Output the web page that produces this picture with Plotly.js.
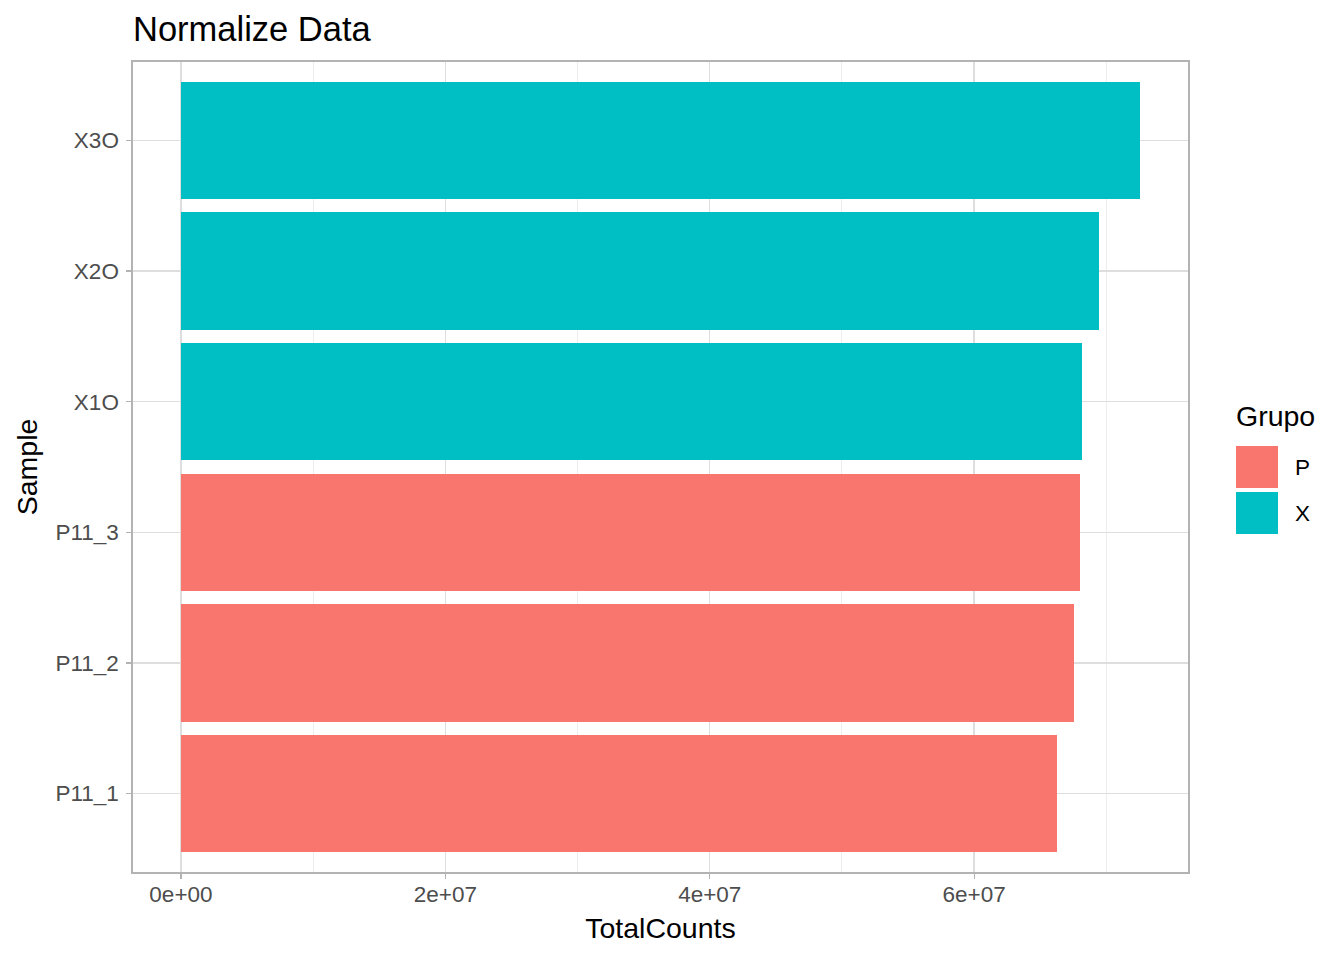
<!DOCTYPE html>
<html>
<head>
<meta charset="utf-8">
<script src="https://cdn.plot.ly/plotly-3.0.1.min.js"></script>
<style>html,body{margin:0;padding:0;background:#fff;}#chart{width:1344px;height:960px;}</style>
</head>
<body>
<div id="chart"></div>
<script>
// ---- data ----
const samples = ["P11_1", "P11_2", "P11_3", "X1O", "X2O", "X3O"];
const groups  = ["P", "P", "P", "X", "X", "X"];
const totalCounts = [66260000, 67550000, 68000000, 68150000, 69430000, 72550000];
const groupNames = ["P", "X"];
const groupColors = ["#F8766D", "#00BFC4"];
const xTickVals = [0, 20000000, 40000000, 60000000];
const xTickText = ["0e+00", "2e+07", "4e+07", "6e+07"];

// ---- layout constants (pixels) ----
const W = 1344, H = 960;
const M = {l: 133, r: 156, t: 62, b: 88};
const pw = W - M.l - M.r, ph = H - M.t - M.b;
const px = x => (x - M.l) / pw;
const py = y => (H - M.b - y) / ph;

const traces = groupNames.map((g, gi) => {
  const ys = [], xs = [];
  samples.forEach((s, i) => { if (groups[i] === g) { ys.push(s); xs.push(totalCounts[i]); } });
  return {
    type: "bar", orientation: "h", name: g,
    x: xs, y: ys, width: 0.9,
    marker: {color: groupColors[gi], line: {width: 0}},
    showlegend: false, hoverinfo: "x+y"
  };
});

const maxV = Math.max(...totalCounts);
const pad = 0.05 * maxV;

// custom legend (ggplot-like large keys)
const shapes = [];
const annotations = [];
annotations.push({xref: "paper", yref: "paper", x: px(1234), y: py(416), xanchor: "left", yanchor: "middle",
  text: "Grupo", showarrow: false, font: {size: 28.5, color: "#000"}});
groupNames.forEach((g, i) => {
  const top = 446 + i * 46;
  shapes.push({type: "rect", xref: "paper", yref: "paper", x0: px(1236), x1: px(1278), y0: py(top + 42), y1: py(top),
    fillcolor: groupColors[i], line: {width: 0}});
  annotations.push({xref: "paper", yref: "paper", x: px(1293), y: py(top + 21), xanchor: "left", yanchor: "middle",
    text: g, showarrow: false, font: {size: 22.5, color: "#000"}});
});

const layout = {
  width: W, height: H,
  margin: M,
  paper_bgcolor: "#fff", plot_bgcolor: "#fff",
  font: {family: "Liberation Sans, Arial, sans-serif", color: "#000"},
  title: {text: "Normalize Data", x: 0, xref: "paper", xanchor: "left", y: 1 - 29 / H, yref: "container", yanchor: "middle",
    font: {size: 34.5, color: "#000"}},
  bargap: 0,
  xaxis: {
    range: [-pad, maxV + pad], zeroline: false,
    tickmode: "array", tickvals: xTickVals, ticktext: xTickText,
    ticks: "outside", ticklen: 5, tickwidth: 1.2, tickcolor: "#B3B3B3",
    tickfont: {size: 22.5, color: "#4D4D4D"},
    ticklabelstandoff: -4,
    showgrid: true, gridcolor: "#DEDEDE", gridwidth: 1.3,
    minor: {tick0: 0, dtick: 10000000, showgrid: true, gridcolor: "#EDEDED", gridwidth: 1},
    showline: true, mirror: true, linecolor: "#B3B3B3", linewidth: 1.6,
    title: {text: "TotalCounts", font: {size: 28.5, color: "#000"}, standoff: 12}
  },
  yaxis: {
    type: "category", categoryorder: "array", categoryarray: samples,
    range: [-0.6, samples.length - 0.4],
    ticks: "outside", ticklen: 5, tickwidth: 1.2, tickcolor: "#B3B3B3",
    tickfont: {size: 22.5, color: "#4D4D4D"},
    ticklabelstandoff: 3,
    showgrid: true, gridcolor: "#DEDEDE", gridwidth: 1.3,
    showline: true, mirror: true, linecolor: "#B3B3B3", linewidth: 1.6,
    title: {text: "Sample", font: {size: 28.5, color: "#000"}, standoff: 9}
  },
  shapes: shapes,
  annotations: annotations
};

Plotly.newPlot("chart", traces, layout, {displayModeBar: false, staticPlot: true});
</script>
</body>
</html>
